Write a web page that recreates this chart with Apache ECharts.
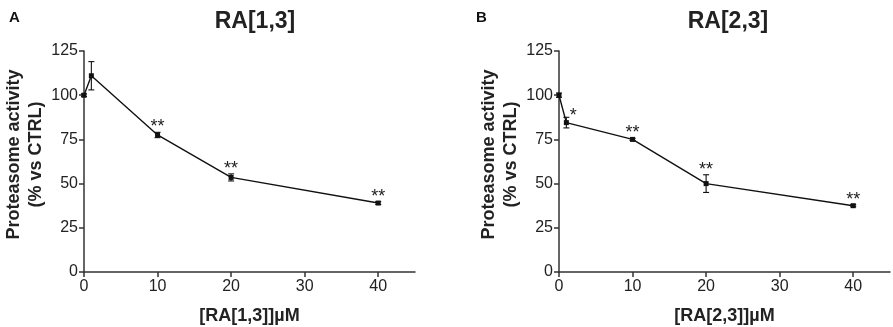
<!DOCTYPE html>
<html><head><meta charset="utf-8">
<script src="https://cdn.jsdelivr.net/npm/echarts@6/dist/echarts.min.js"></script>
<style>html,body{margin:0;padding:0;background:#fff}#c{width:893px;height:327px}</style>
</head><body><div id="c"></div>
<script>
const concA = [0, 1, 10, 20, 40];
const meanA = [100, 111, 77.5, 53.5, 39];
const errA = [0.8, 8, 1.5, 2, 0.8];
const sigA = ['', '', '**', '**', '**'];
const concB = [0, 1, 10, 20, 40];
const meanB = [100, 84.5, 75, 50, 37.5];
const errB = [1.2, 3, 0.6, 5, 0.6];
const sigB = ['', '*', '**', '**', '**'];
const titles = ['RA[1,3]', 'RA[2,3]'];
const xNames = ['[RA[1,3]]µM', '[RA[2,3]]µM'];
const panelLetters = ['A', 'B'];
const yTicks = [0, 25, 50, 75, 100, 125];
const xTicks = [0, 10, 20, 30, 40];

const FONT = '"Liberation Sans", Arial, sans-serif';
const chart = echarts.init(document.getElementById('c'), null, {renderer: 'canvas'});

function axisX(i) {
  return {
    type: 'value', gridIndex: i, min: 0, max: 45, interval: 10,
    axisLine: {lineStyle: {color: '#333', width: 1.5}},
    axisTick: {show: true, length: 5, lineStyle: {color: '#333', width: 1.5},
      customValues: xTicks},
    axisLabel: {color: '#222', fontSize: 16, fontFamily: FONT, margin: 7,
      customValues: xTicks},
    splitLine: {show: false},
    name: xNames[i], nameLocation: 'middle', nameGap: 35,
    nameTextStyle: {color: '#222', fontSize: 18, fontWeight: 'bold', fontFamily: FONT}
  };
}
function axisY(i) {
  return {
    type: 'value', gridIndex: i, min: 0, max: 125, interval: 25,
    axisLine: {show: true, lineStyle: {color: '#333', width: 1.5}},
    axisTick: {show: true, length: 5, lineStyle: {color: '#333', width: 1.5},
      customValues: yTicks},
    axisLabel: {color: '#222', fontSize: 16, fontFamily: FONT, margin: 6,
      customValues: yTicks},
    splitLine: {show: false},
    name: 'Proteasome activity\n(% vs CTRL)', nameLocation: 'middle', nameGap: 35,
    nameTextStyle: {color: '#222', fontSize: 18, fontWeight: 'bold', fontFamily: FONT,
      lineHeight: 22, padding: [0, 0, 0, 14]}
  };
}
function lineSeries(i, xs, ys) {
  return {
    type: 'line', xAxisIndex: i, yAxisIndex: i,
    data: xs.map((x, k) => [x, ys[k]]),
    symbol: 'rect', symbolSize: 5,
    lineStyle: {color: '#111', width: 1.4},
    itemStyle: {color: '#111'},
    z: 3
  };
}
function errSeries(i, xs, ys, es, sig) {
  return {
    type: 'custom', xAxisIndex: i, yAxisIndex: i,
    data: xs.map((x, k) => [x, ys[k] - es[k], ys[k] + es[k], k]),
    renderItem: function (params, api) {
      const lo = api.coord([api.value(0), api.value(1)]);
      const hi = api.coord([api.value(0), api.value(2)]);
      const s = sig[api.value(3)];
      const w = 3;
      const st = {stroke: '#111', lineWidth: 1.1};
      const children = [
        {type: 'line', shape: {x1: lo[0], y1: lo[1], x2: hi[0], y2: hi[1]}, style: st},
        {type: 'line', shape: {x1: lo[0] - w, y1: lo[1], x2: lo[0] + w, y2: lo[1]}, style: st},
        {type: 'line', shape: {x1: hi[0] - w, y1: hi[1], x2: hi[0] + w, y2: hi[1]}, style: st}
      ];
      if (s) {
        children.push({type: 'text',
          x: hi[0] + (s === '*' ? 7 : 0), y: hi[1] + (s === '*' ? 8 : 4),
          style: {text: s, fill: '#222', font: '18px ' + FONT, align: 'center', verticalAlign: 'bottom'}});
      }
      return {type: 'group', children: children};
    },
    z: 2
  };
}

chart.setOption({
  animation: false,
  backgroundColor: '#fff',
  title: [
    {text: titles[0], left: 250, top: 5, textAlign: 'center',
      textStyle: {fontSize: 23, fontWeight: 'bold', color: '#222', fontFamily: FONT}},
    {text: titles[1], left: 723, top: 5, textAlign: 'center',
      textStyle: {fontSize: 23, fontWeight: 'bold', color: '#222', fontFamily: FONT}},
    {text: panelLetters[0], left: 4, top: 5,
      textStyle: {fontSize: 15, fontWeight: 'bold', color: '#111', fontFamily: FONT}},
    {text: panelLetters[1], left: 471, top: 5,
      textStyle: {fontSize: 15, fontWeight: 'bold', color: '#111', fontFamily: FONT}}
  ],
  grid: [
    {left: 84, right: 478, top: 51, bottom: 55, outerBoundsMode: 'none', containLabel: false},
    {left: 559, right: 3, top: 51, bottom: 55, outerBoundsMode: 'none', containLabel: false}
  ],
  xAxis: [axisX(0), axisX(1)],
  yAxis: [axisY(0), axisY(1)],
  series: [
    errSeries(0, concA, meanA, errA, sigA),
    lineSeries(0, concA, meanA),
    errSeries(1, concB, meanB, errB, sigB),
    lineSeries(1, concB, meanB)
  ]
});
</script></body></html>
